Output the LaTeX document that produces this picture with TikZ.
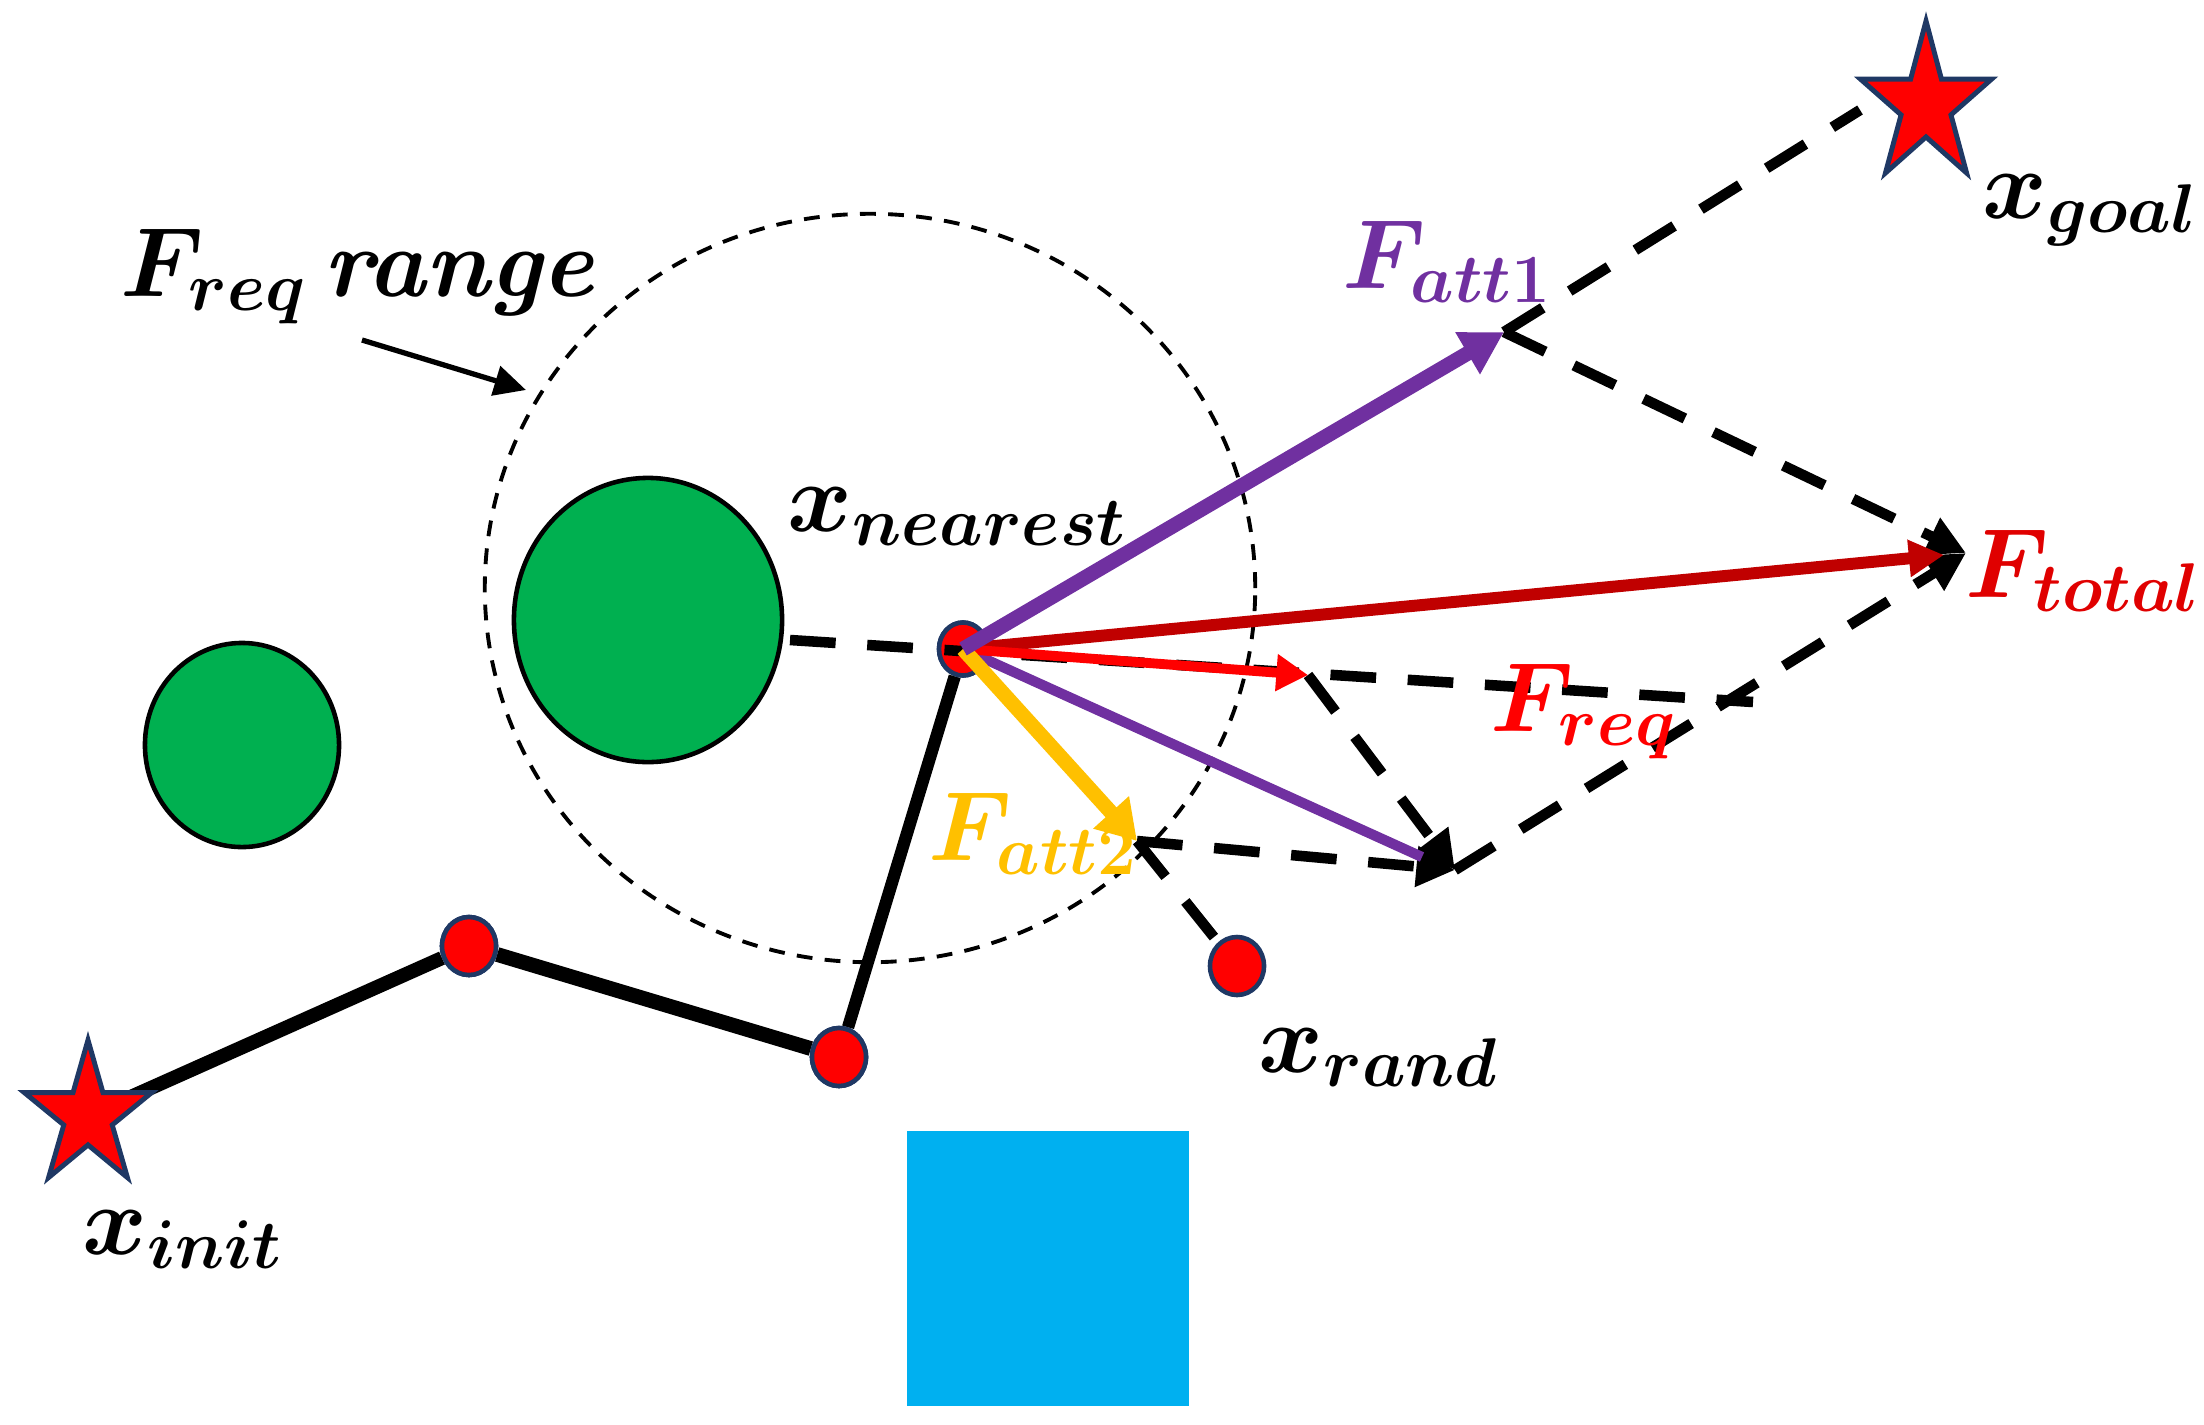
\RequirePackage{fix-cm}
\documentclass[tikz,border=0pt]{standalone}
\usetikzlibrary{arrows.meta,shapes.geometric}
\definecolor{starline}{HTML}{1F3864}
\definecolor{gfill}{HTML}{00B050}
\definecolor{bfill}{HTML}{00B0F0}
\definecolor{purp}{HTML}{7030A0}
\definecolor{yell}{HTML}{FFC000}
\definecolor{dred}{HTML}{C00000}
\definecolor{tred}{HTML}{E00000}
\tikzset{
  redpt/.style={ellipse, draw=starline, fill=red, line width=1.3pt, inner sep=0pt, minimum width=0.54cm, minimum height=0.58cm},
  obst/.style={ellipse, draw=black, line width=1.3pt, fill=gfill, inner sep=0pt},
  pathline/.style={line width=4pt, black},
  dashline/.style={line width=3pt, dash pattern=on 13pt off 9pt},
  darrow/.style={dashline, -{Triangle[length=11pt,width=11pt]}},
  vec/.style={line cap=butt},
  lab/.style={anchor=base west, inner sep=0pt, font=\fontsize{28}{34}\selectfont\boldmath\bfseries},
  pics/redstar/.style n args={2}{code={
    \draw[fill=red, draw=starline, line width=1.4pt, line join=miter]
      (90:#1 and #2) -- (126:0.38*#1 and 0.38*#2) -- (162:#1 and #2) -- (198:0.38*#1 and 0.38*#2)
      -- (234:#1 and #2) -- (270:0.38*#1 and 0.38*#2) -- (306:#1 and #2) -- (342:0.38*#1 and 0.38*#2)
      -- (18:#1 and #2) -- (54:0.38*#1 and 0.38*#2) -- cycle;}}
}
\begin{document}
\begin{tikzpicture}[x=0.01cm, y=-0.01cm]
\useasboundingbox (0,0) rectangle (2204,1424);

% range circle
\node[ellipse, draw, line width=1.1pt, dash pattern=on 4.5pt off 3.5pt, minimum width=7.7cm, minimum height=7.48cm, inner sep=0pt] (range) at (870,588) {};

% obstacles
\node[obst, minimum width=2.68cm, minimum height=2.84cm] (g1) at (648,620) {};
\node[obst, minimum width=1.94cm, minimum height=2.04cm] (g2) at (242,745) {};
\node[fill=bfill, minimum width=2.82cm, minimum height=2.75cm, inner sep=0pt] (box) at (1048,1268.5) {};

% coordinates
\coordinate (init) at (88,1116);
\coordinate (goal) at (1926,105);
\coordinate (tatt1) at (1504,332);
\coordinate (tatt2) at (1137,841);
\coordinate (treq) at (1308,675);
\coordinate (tpur) at (1422,857);
\coordinate (tmeet) at (1455,870);
\coordinate (ttot) at (1966,553);
\coordinate (ttotR) at (1944,555);
\coordinate (freqend) at (1753,702);
\coordinate (gstart) at (790,640);
\coordinate (goalend) at (1860,110);
\coordinate (rtail) at (362,340);
\coordinate (rtip) at (526,390);

% tree nodes
\node[redpt] (n1) at (469,946) {};
\node[redpt] (n2) at (839,1057) {};
\node[redpt, minimum width=0.48cm, minimum height=0.53cm] (near) at (963,649) {};
\node[redpt] (rand) at (1237,966) {};

% tree path
\draw[pathline] (init) -- (n1);
\draw[pathline, line width=4.2pt] (n1) -- (n2);
\draw[pathline, line width=3.5pt] (n2) -- (near);

% redraw nodes on top
\node[redpt] at (n1) {};
\node[redpt] at (n2) {};
\node[redpt, minimum width=0.48cm, minimum height=0.53cm] at (near) {};

% dashed construction lines
\draw[dashline] (gstart) -- (freqend);
\draw[darrow] (treq) -- (tmeet);
\draw[darrow] (tatt2) -- (tmeet);
\draw[darrow] (tmeet) -- (ttot);
\draw[darrow] (tatt1) -- (ttot);
\draw[dashline] (tatt1) -- (goalend);
\draw[dashline] (tatt2) -- (rand);

% force vectors
\draw[vec, purp, line width=2.9pt] (near.center) -- (tpur);
\draw[vec, dred, line width=3.4pt, -{Triangle[length=10pt,width=10pt]}] (near.center) -- (ttotR);
\draw[vec, red, line width=2.8pt, -{Triangle[length=9pt,width=10pt]}] (near.center) -- (treq);
\draw[vec, yell, line width=4.2pt, -{Triangle[length=11pt,width=13pt]}] (near.center) -- (tatt2);
\draw[vec, purp, line width=4.2pt, -{Triangle[length=12pt,width=13pt]}] (near.center) -- (tatt1);

% range annotation arrow
\draw[line width=1.5pt, -{Triangle[length=9pt,width=8.5pt]}] (rtail) -- (rtip);

% stars
\pic at (init) {redstar={0.67cm}{0.76cm}};
\pic at (goal) {redstar={0.69cm}{0.84cm}};

% labels
\node[lab] (lrange) at (120,296) {$F_{req}$\,\itshape range};
\node[lab] (lnear) at (787,531) {$x_{nearest}$};
\node[lab, text=purp] (latt1) at (1342,288) {$F_{att1}$};
\node[lab] (lgoal) at (1982,218) {$x_{goal}$};
\node[lab, text=tred] (ltot) at (1965,597) {$F_{total}$};
\node[lab, text=red] (lreq) at (1490,731) {$F_{req}$};
\node[lab, text=yell] (latt2) at (928,860) {$F_{att2}$};
\node[lab] (lrand) at (1258,1072) {$x_{rand}$};
\node[lab] (linit) at (82,1254) {$x_{init}$};
\end{tikzpicture}
\end{document}
